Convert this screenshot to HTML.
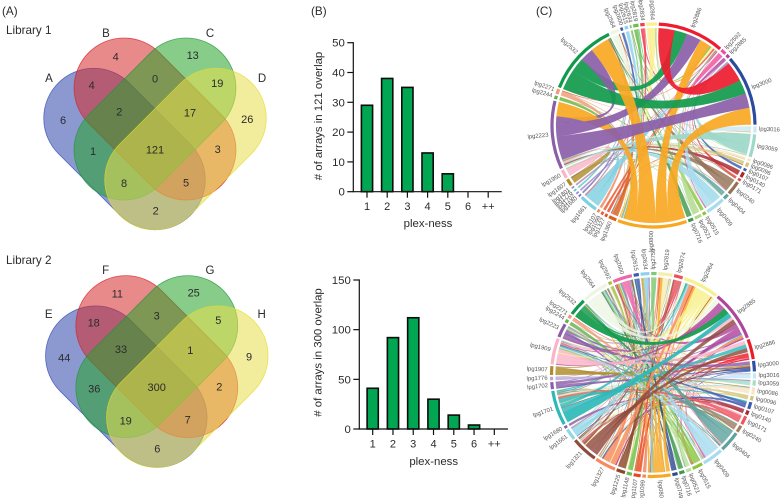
<!DOCTYPE html>
<html lang="en">
<head>
<meta charset="utf-8">
<title>Library overlap figure</title>
<style>
html,body{margin:0;padding:0;background:#fff;width:780px;height:498px;overflow:hidden}
svg{display:block;filter:blur(.35px)}
text{font-family:"Liberation Sans",Arial,sans-serif;fill:#2b2b2b}
.n{font-size:11px;text-anchor:middle;dominant-baseline:central}
.l{font-size:11.5px;text-anchor:middle}
.a{stroke-opacity:.75;stroke-width:.8;fill-opacity:.55}
</style>
</head>
<body>
<svg id="fig" width="780" height="498" viewBox="0 0 780 498" xmlns="http://www.w3.org/2000/svg">
<rect width="780" height="498" fill="#fff"/>
<text x="2" y="15" font-size="11.7">(A)</text>
<text x="311" y="15" font-size="11.7">(B)</text>
<text x="536" y="15" font-size="11.7">(C)</text>
<text x="6" y="34" font-size="11.7">Library 1</text>
<text x="6" y="264" font-size="11.7">Library 2</text>

<g>
<rect class="a" x="-93.5" y="-50" width="187" height="100" rx="50" fill="rgb(45,70,170)" stroke="rgb(45,70,190)" transform="translate(124.5 149) rotate(45)"/>
<rect class="a" x="-93.8" y="-50" width="187.6" height="100" rx="50" fill="rgb(215,42,42)" stroke="rgb(215,30,40)" transform="translate(155 119) rotate(45)"/>
<rect class="a" x="-93.8" y="-50" width="187.6" height="100" rx="50" fill="rgb(38,162,42)" stroke="rgb(30,150,60)" transform="translate(155 119) rotate(-45)"/>
<rect class="a" x="-93.5" y="-50" width="187" height="100" rx="50" fill="rgb(231,222,75)" stroke="rgb(225,220,40)" transform="translate(185.5 149) rotate(-45)"/>
<text class="l" x="49" y="82">A</text>
<text class="l" x="106" y="37">B</text>
<text class="l" x="210" y="37">C</text>
<text class="l" x="262" y="82">D</text>
<text class="n" x="63" y="121">6</text>
<text class="n" x="115.7" y="57.3">4</text>
<text class="n" x="192.7" y="56">13</text>
<text class="n" x="91.7" y="86">4</text>
<text class="n" x="155" y="79.3">0</text>
<text class="n" x="217.3" y="84">19</text>
<text class="n" x="247.3" y="120">26</text>
<text class="n" x="119.3" y="112.7">2</text>
<text class="n" x="190" y="113.3">17</text>
<text class="n" x="93" y="152">1</text>
<text class="n" x="155" y="150.7">121</text>
<text class="n" x="217.7" y="150">3</text>
<text class="n" x="124" y="184">8</text>
<text class="n" x="186" y="183.3">5</text>
<text class="n" x="155.7" y="211.7">2</text>
</g>

<g>
<g transform="translate(1.8 237.6)">
<rect class="a" x="-93.5" y="-50" width="187" height="100" rx="50" fill="rgb(45,70,170)" stroke="rgb(45,70,190)" transform="translate(124.5 149) rotate(45)"/>
<rect class="a" x="-93.8" y="-50" width="187.6" height="100" rx="50" fill="rgb(215,42,42)" stroke="rgb(215,30,40)" transform="translate(155 119) rotate(45)"/>
<rect class="a" x="-93.8" y="-50" width="187.6" height="100" rx="50" fill="rgb(38,162,42)" stroke="rgb(30,150,60)" transform="translate(155 119) rotate(-45)"/>
<rect class="a" x="-93.5" y="-50" width="187" height="100" rx="50" fill="rgb(231,222,75)" stroke="rgb(225,220,40)" transform="translate(185.5 149) rotate(-45)"/>
</g>
<text class="l" x="48.7" y="318">E</text>
<text class="l" x="105.7" y="274">F</text>
<text class="l" x="210" y="274">G</text>
<text class="l" x="261.7" y="318">H</text>
<text class="n" x="64.3" y="358.3">44</text>
<text class="n" x="117.3" y="294.7">11</text>
<text class="n" x="193.7" y="293.7">25</text>
<text class="n" x="93.7" y="323.7">18</text>
<text class="n" x="156.7" y="316.3">3</text>
<text class="n" x="218.3" y="321">5</text>
<text class="n" x="249" y="357.3">9</text>
<text class="n" x="121" y="350">33</text>
<text class="n" x="190.3" y="351">1</text>
<text class="n" x="94.3" y="389.3">36</text>
<text class="n" x="156.7" y="388">300</text>
<text class="n" x="219.3" y="387.3">2</text>
<text class="n" x="125.7" y="421.3">19</text>
<text class="n" x="187.7" y="420.7">7</text>
<text class="n" x="157.3" y="449.3">6</text>
</g>
</svg>
<script>
// ---- bar chart data ----
const barCategories = ["1","2","3","4","5","6","++"];
const bars121Values = [29,38,35,13,6,0,0];
const bars121Ticks = [0,10,20,30,40,50];
const bars300Values = [41,92,112,30,14,4,0];
const bars300Ticks = [0,50,100,150];

// ---- chord diagram 1 data ----
const chord1Names = ["2886","2592","2885","3000","3016","3059","0086","0096","0107","0140","0171","0240","0404","0409","0515","0521","0716","0800","1360","1327","1099","1107","1661","1680","1702","1776","1801","1807","1950","2223","2244","2271","2532","2564","2600","2615","2634","2819","2834","2864"];
const chord1Sizes = [38,3,2,40.5,3.5,13,1.5,2.5,1.5,3,1.5,8,3,11,2,4,3,39.5,4.5,1.5,1.5,1.5,10.5,1,1,1,1,4,5,39,2,3,42,5,1.5,2,1,3,2.5,6];
const chord1Colors = ["#ed1c2e","#ee4fa0","#b0449c","#2b4ba0","#c9e9f5","#9dd8c8","#f9e4c4","#d3c77e","#3b5cb0","#a8282f","#ed4040","#947255","#5fa3a0","#a6dcee","#8cc63f","#b0d98a","#3d9a4d","#f7a823","#d9601f","#e84a2a","#e85a30","#f08860","#7fd0e0","#7a6fb8","#9a8ac8","#5fc8c0","#b08ac0","#b08d2c","#f9b5c8","#8b5ea8","#5fb548","#f09a78","#119a4c","#eef5e0","#3b5cb0","#8fd0ee","#80c878","#6cbf4a","#ee4055","#f8f08c"];
const chord1Links = [
["3059","2223",7,.4],["3059","3000",6,.3],["3016","2223",3.5,.2],["0086","2223",1.5,.2],["0096","2223",2.5,.3],
["0107","3000",1.5,.2],["0140","2223",3,.3],["0171","3000",1.5,.1],["0240","2223",4,.3],["0404","2223",3,.2],
["0409","2223",6,.3],["0409","3000",5,.2],["1950","2223",5,1],["1807","2223",4,.8],["1661","2223",5,.4],
["2592","3000",3,.4],["2885","3000",2,.4],
["2886","3000",10,11],["2532","3000",12,8],["2532","2886",8,8],["2223","3000",14,8],["2223","2886",8,9],["2223","2532",4,8],
["0800","3000",9,9.5],["0800","2886",8,7],["0800","2532",12,11],["0800","2223",6,8.5],
["2819","2886",1,1],["2864","2886",2,1.5],["2834","2886",1,1],["2564","2886",1,.5],
["0240","2532",4,.3],["0515","2532",2,.2],["0521","2886",4,.3],["0716","2532",3,.2],["1360","2532",3,.3],["1360","2886",1.5,.2],
["1327","2886",1.5,.2],["1099","2886",1.5,.2],["1107","2532",1.5,.2],["1661","2886",5.5,.3],["1680","2532",1,.1],["1702","2886",1,.1],
["1776","2532",1,.1],["1801","2886",1,.1],["2244","0800",2,.3],["2271","0800",2,.3],["2271","1360",1,.5],
["2564","0800",4,.3],["2600","0800",1.5,.2],["2615","0800",2,.2],["2634","0800",1,.1],["2819","0800",2,.3],["2834","0800",1.5,.2],["2864","0800",4,.4],
["0404","2864",.3,.2],["0409","2819",.3,.2],["0240","2634",.3,.2],["0140","2564",.3,.2],["3059","2600",.3,.2],["3016","2615",.2,.2],
["0086","2834",.2,.2],["0096","2864",.2,.2],["1661","2819",.2,.2],["1807","2564",.2,.2],["1950","0240",.2,.2],["2271","0409",.2,.2],
["2244","0404",.2,.2],["1360","2564",.2,.2],["1327","0096",.2,.2],["1099","0140",.2,.2],["0515","2271",.2,.2],["0521","1950",.2,.2],
["0716","1807",.2,.2],["2592","1661",.2,.2],["2885","1360",.2,.2],["2592","0409",.2,.2],["2885","0240",.2,.2],["2834","1661",.2,.2],
["2564","0404",.15,.15],["2564","0240",.15,.15],["2564","3059",.15,.15],["2600","1661",.15,.15],["2615","0409",.15,.15],["2634","0521",.15,.15],
["2819","0515",.2,.15],["2819","0716",.2,.15],["2834","0140",.15,.15],["2864","3059",.15,.15],["2864","1661",.15,.15],["2864","0404",.15,.15],
["2532","0096",.15,.15],["2532","0171",.15,.15],["2532","1360",.15,.15],["2886","1807",.15,.15],["2886","0409",.15,.15],["2886","2271",.15,.15],
["0800","2244",.2,.15],["0800","3016",.2,.15],["0800","0086",.2,.15],["3059","1661",.15,.15],["3059","1807",.15,.15],["3059","1950",.15,.15],
["0240","1807",.15,.15],["0409","1950",.15,.15],["0404","1360",.15,.15],["0086","1661",.15,.15],["0096","1950",.15,.15],["2271","3016",.15,.15]
];

// ---- chord diagram 2 data ----
const chord2Names = ["2864","2885","2886","3000","3016","3059","0086","0096","0107","0140","0171","0240","0404","0409","0515","0521","0716","0749","0800","1099","1107","1148","1225","1327","1321","1661","1680","1701","1702","1776","1907","1909","2223","2244","2271","2532","2564","2592","2600","2615","2634","2750","2819","2874"];
const chord2Sizes = [20.5,29,11.5,6,3,3,4,2.5,4,2.5,5,4,12,12,6,3,3,3,13,2,4,3,5,12,15,6.5,1.5,20,4,2,5,15,8,2,2,10,15,2,11,3,5,3,8,5];
const chord2Colors = ["#f8f08c","#b0449c","#ed1c24","#2f4fa5","#c5e8f5","#a8ddc8","#f9e4c4","#d3c77e","#3b5cb0","#a8282f","#ed5560","#a08060","#5fa3a0","#a6dcee","#8cc63f","#b8dfa0","#3d9a4d","#2d4a90","#f7a823","#f08860","#e8481c","#6cbf4a","#8a4a2a","#f58a5c","#8f4a3a","#90d8e8","#8b5ea8","#2fb8b8","#8b5ea8","#b8a8d8","#b08d2c","#f9b5c8","#8b5ea8","#5fb548","#f09a78","#119a4c","#eef5e4","#a8c040","#ee68a8","#3b5cb0","#8fd0ee","#80c878","#f4eeb0","#ee5060"];
const chord2Links = [
["2564","2885",6,3],["2885","1909",3,1],["2885","2223",2,1],["2532","2885",6,4],["1701","2885",9,3],["1909","2885",5,2],["1321","2885",5,3],
["2885","2600",3,.6],["2885","1327",2,.6],["2885","1321",2,.6],
["1909","2886",4,2],["1701","2886",4,2],["1321","2886",5,2],["2564","2886",2,.5],["2886","1701",1,.4],["2886","1327",1,.6],
["2223","3000",4,3],["1909","3000",2,.5],["1907","3000",2,1],["1321","3000",3,1],["3000","2223",1,.6],["3000","1702",1,.4],["3000","1661",1,.4],
["2564","2864",5,1.5],["2532","2864",2,.5],["1701","2864",3,.8],["1661","2864",3,1],["1327","2864",5,2],["1107","2864",2,.8],["0800","2864",3,1],
["2864","1327",2,.8],["2864","1909",3,.8],["2864","1701",1.5,.5],["2864","1321",1.5,.5],["2864","0800",1,.6],["2864","1225",1,.4],
["2564","0800",2,.5],["2532","0404",2,.3],["2223","0800",2,.4],["2223","2885",2,.6],["2244","0515",2,.2],["2271","0409",2,.3],
["1909","0171",2,1],["1909","1321",2,.5],["1907","0086",2,.6],["1907","0404",1,.3],["1776","3016",2,.5],["1702","3059",2,.4],["1702","2885",2,.4],
["1701","0107",2,1],["1701","0240",2,.5],["1680","0140",1.5,.3],["1661","0086",2,.6],["1661","2885",1.5,.4],["1321","2874",2,.5],
["1327","2600",3,.8],["1327","2819",2,.8],["1327","2634",2,.6],["1225","2600",2,1],["1225","2874",3,.4],["1148","2634",2,.6],["1148","2750",1,.3],
["1107","2819",2,.6],["1099","2600",2,.4],["0800","2819",3,1.5],["0800","2634",3,.8],["0800","2600",2,.8],["0800","2532",2,.6],
["0749","2615",2,1],["0749","2564",1,.5],["0716","2564",2,.6],["0716","2600",1,.5],["0521","2600",2,.7],["0521","2592",1,.5],
["0515","2564",2,1],["0515","2223",2,1],["0515","1909",2,1],["0409","2223",3,.8],["0409","1909",4,1.5],["0409","2564",3,1],["0409","2600",2,.5],
["0404","1909",4,1],["0404","2564",4,1],["0404","2600",2,1.2],["0404","2615",2,.5],["0240","1701",2,.8],["0240","1321",2,.6],
["0171","1701",3,1],["0171","1321",2,.8],["0140","1321",1.5,.6],["0140","1327",1,.5],["0107","1909",2,.8],["0107","1327",2,.8],
["0096","1701",1.5,.5],["0096","1327",1,.4],["0086","1321",2,.5],["0086","1701",2,.5],["3059","1701",1.5,.3],["3059","1909",1.5,.3],
["3016","1327",1.5,.3],["3016","1321",1.5,.3],["2874","1321",2,.5],["2874","1909",1.5,.4],["2874","1661",1,.3],["2819","1327",2,.6],["2819","1321",2,.4],
["2750","0800",1.5,.5],["2750","1701",1,.3],["2634","0800",3,1],["2634","1321",1,.3],["2615","0800",1.5,.5],["2615","1327",1,.3],
["2600","1909",2,.8],["2600","0404",2,.5],["2600","0409",2,1],["2600","0240",1,.4],["2600","1701",1,.5],["2592","1107",1,.3],["2592","1148",1,.3],
["2864","0404",.4,.4],["2885","0409",.4,.4],["2886","0515",.4,.3],["3000","0521",.3,.3],["0086","2532",.4,.3],["0096","2223",.3,.3],
["0107","2564",.3,.3],["0171","2600",.3,.3],["0240","2564",.3,.3],["0404","1701",.5,.5],["0409","1321",.5,.5],["0515","1701",.4,.4],
["0800","1909",.5,.5],["0800","2885",.5,.5],["1099","2864",.3,.3],["1107","2885",.3,.3],["1225","2864",.4,.4],["1327","2885",.5,.5],
["1321","1909",.5,.4],["1661","2600",.4,.3],["1701","2600",.5,.4],["1701","2819",.4,.3],["1702","2634",.3,.3],["1776","2615",.3,.2],
["1907","2874",.3,.3],["1909","2819",.4,.3],["1909","2634",.4,.3],["2223","2874",.3,.3],["2532","0409",.4,.4],["2564","1327",.4,.4],
["2564","0086",.4,.3],["2600","2886",.4,.4],["2634","3000",.3,.3],["2819","0404",.4,.4],["2874","0515",.3,.3],["2864","0409",.4,.4],
["2864","1148",.2,.2],["2864","0716",.2,.2],["2864","0521",.2,.2],["2864","1680",.15,.15],["2864","2223",.2,.2],["2885","0515",.2,.2],
["2885","0800",.2,.2],["2885","1661",.2,.2],["2885","0240",.2,.2],["2885","0107",.2,.2],["2886","0409",.2,.2],["2886","0404",.2,.2],
["2886","1225",.2,.2],["2886","2271",.15,.15],["3000","0404",.2,.2],["3016","2564",.15,.15],["3059","2600",.15,.15],["0086","1909",.2,.2],
["0096","2600",.15,.15],["0107","2532",.15,.15],["0140","2600",.15,.15],["0171","2564",.15,.15],["0240","2223",.15,.15],["0404","1327",.3,.2],
["0404","1321",.3,.2],["0404","2223",.2,.2],["0409","1701",.3,.2],["0409","1327",.3,.2],["0409","2532",.2,.2],["0515","1321",.2,.2],
["0515","2600",.2,.2],["0521","1909",.15,.15],["0716","1701",.15,.15],["0749","1909",.15,.15],["0800","1701",.3,.2],["0800","1321",.2,.2],
["0800","2564",.3,.2],["0800","2223",.2,.2],["1099","2819",.15,.15],["1107","2600",.2,.2],["1107","2634",.15,.15],["1148","2564",.15,.15],
["1225","2634",.2,.15],["1225","2564",.2,.15],["1327","2564",.3,.2],["1327","1701",.2,.2],["1327","2223",.2,.2],["1321","2564",.3,.2],
["1321","2600",.3,.2],["1321","2819",.2,.2],["1661","1909",.2,.2],["1661","2564",.2,.2],["1701","2564",.3,.2],["1701","1909",.3,.2],
["1701","2223",.2,.2],["1702","2600",.15,.15],["1776","2564",.15,.15],["1907","2600",.15,.15],["1909","2564",.3,.2],["1909","2223",.2,.2],
["2223","2600",.2,.2],["2244","2600",.15,.15],["2271","2564",.15,.15],["2532","2600",.2,.15],["2592","1909",.15,.15],["2615","1701",.15,.15],
["2634","1909",.2,.2],["2750","1327",.15,.15],["2819","1701",.2,.2],["2819","1909",.2,.2],["2874","1327",.2,.2],["2874","0409",.15,.15]
];

const NS = "http://www.w3.org/2000/svg";
const fig = document.getElementById("fig");

function make(tag, attrs, parent) {
  const el = document.createElementNS(NS, tag);
  for (const k in attrs) el.setAttribute(k, attrs[k]);
  parent.appendChild(el);
  return el;
}

function drawBarChart(name, values, ticks, cfg) {
  const g = make("g", {}, fig);
  
  
  const yMax = ticks[ticks.length - 1];
  const yScale = v => cfg.y0 - v * (cfg.y0 - cfg.yTop) / yMax;
  const xScale = i => cfg.xFirst + i * cfg.step;

  values.forEach((v, i) => {
    const bar = make("rect", {
      x: xScale(i) - 5.6, y: yScale(v), width: 11.2, height: cfg.y0 - yScale(v),
      fill: "#00a651", stroke: "#0c0c0c", "stroke-width": 1.6
    }, g);
    
    
  });

  const yAxis = make("line", {x1: cfg.x0, x2: cfg.x0, y1: cfg.yTop - .6, y2: cfg.y0 + .6, stroke: "#111", "stroke-width": 1.2}, g);
  
  
  const xAxis = make("line", {x1: cfg.x0, x2: cfg.xEnd, y1: cfg.y0, y2: cfg.y0, stroke: "#111", "stroke-width": 1.2}, g);
  
  

  ticks.forEach(t => {
    const tick = make("line", {x1: cfg.x0 - 6, x2: cfg.x0, y1: yScale(t), y2: yScale(t), stroke: "#111", "stroke-width": 1.2}, g);
    
    
    const lab = make("text", {x: cfg.x0 - 8.5, y: yScale(t) + 4, "font-size": 11.4, "text-anchor": "end"}, g);
    lab.textContent = t;
    
    
  });
  barCategories.forEach((c, i) => {
    const tick = make("line", {x1: xScale(i), x2: xScale(i), y1: cfg.y0, y2: cfg.y0 + 6, stroke: "#111", "stroke-width": 1.2}, g);
    
    
    const lab = make("text", {x: xScale(i), y: cfg.y0 + 18.5, "font-size": 11, "text-anchor": "middle"}, g);
    lab.textContent = c;
    
    
  });
  const xt = make("text", {x: cfg.xTitleX, y: cfg.xTitleY, "font-size": 11.4, "text-anchor": "middle"}, g);
  xt.textContent = "plex-ness";
  
  
  const yt = make("text", {"font-size": 11.4, "text-anchor": "middle", transform: "translate(" + cfg.yTitleX + " " + cfg.yTitleY + ") rotate(-90)"}, g);
  yt.textContent = cfg.yTitle;
  
  
}

drawBarChart("bar-chart-121", bars121Values, bars121Ticks, {
  x0: 353.3, xEnd: 501.7, y0: 191.7, yTop: 42.7, xFirst: 367, step: 20.2,
  xTitleX: 428, xTitleY: 227, yTitleX: 322, yTitleY: 116, yTitle: "# of arrays in 121 overlap"
});
drawBarChart("bar-chart-300", bars300Values, bars300Ticks, {
  x0: 359.3, xEnd: 508, y0: 429, yTop: 280, xFirst: 372.7, step: 20.27,
  xTitleX: 433.7, xTitleY: 465, yTitleX: 321.5, yTitleY: 352.5, yTitle: "# of arrays in 300 overlap"
});

function drawChord(name, names, sizes, colors, links, cx, cy, firstAngle, gap) {
  const g = make("g", {}, fig);
  
  
  const ringR = 101.5, ribR = 97.5, labelR = 105.5;
  const polar = (deg, r) => {
    const t = (deg - 90) * Math.PI / 180;
    return [(cx + r * Math.cos(t)).toFixed(2), (cy + r * Math.sin(t)).toFixed(2)];
  };
  const idx = {};
  names.forEach((n, i) => { idx[n] = i; });
  const starts = [];
  let s = firstAngle;
  sizes.forEach((sz, i) => { starts[i] = s; s += sz + gap; });

  const totals = names.map(() => 0);
  links.forEach(l => { totals[idx[l[0]]] += l[2]; totals[idx[l[1]]] += l[3]; });
  const cursor = starts.slice();

  const ribbons = links.map(l => {
    const a = idx[l[0]], b = idx[l[1]];
    const sa = totals[a] ? sizes[a] / totals[a] : 1;
    const sb = totals[b] ? sizes[b] / totals[b] : 1;
    const a0 = cursor[a], a1 = a0 + l[2] * sa;
    cursor[a] = a1;
    const b0 = cursor[b], b1 = b0 + l[3] * sb;
    cursor[b] = b1;
    return {a, a0, a1, b0, b1, w: Math.max(a1 - a0, b1 - b0)};
  });
  ribbons.sort((p, q) => p.w - q.w);
  ribbons.forEach(r => {
    const A0 = polar(r.a0, ribR), A1 = polar(r.a1, ribR), B0 = polar(r.b0, ribR), B1 = polar(r.b1, ribR);
    const d = "M" + A0 + "A" + ribR + " " + ribR + " 0 0 1 " + A1 + "Q" + cx + " " + cy + " " + B0 +
              "A" + ribR + " " + ribR + " 0 0 1 " + B1 + "Q" + cx + " " + cy + " " + A0 + "Z";
    const path = make("path", {d: d, fill: colors[r.a], "fill-opacity": r.w > 5 ? .92 : .82, stroke: colors[r.a], "stroke-width": .2, "stroke-opacity": .7}, g);
    
    
  });

  names.forEach((n, i) => {
    const a0 = starts[i], a1 = a0 + sizes[i];
    const p0 = polar(a0, ringR), p1 = polar(a1, ringR);
    const arc = make("path", {d: "M" + p0 + "A" + ringR + " " + ringR + " 0 0 1 " + p1, fill: "none", stroke: colors[i], "stroke-width": 3.2}, g);
    
    
    const m = (a0 + a1) / 2;
    const norm = ((m % 360) + 360) % 360;
    const pos = polar(m, labelR);
    const rot = norm < 180 ? norm - 90 : norm + 90;
    const t = make("text", {
      "font-size": 5.9, style: "fill:#555",
      "text-anchor": norm < 180 ? "start" : "end",
      "dominant-baseline": "central",
      transform: "translate(" + pos[0] + " " + pos[1] + ") rotate(" + rot + ")"
    }, g);
    t.textContent = "lpg" + n;
    
    
  });
}

drawChord("chord-diagram-library-1", chord1Names, chord1Sizes, chord1Colors, chord1Links, 653.5, 125.5, 3, 1);
drawChord("chord-diagram-library-2", chord2Names, chord2Sizes, chord2Colors, chord2Links, 653, 375, 18, 1);
</script>
</body>
</html>
